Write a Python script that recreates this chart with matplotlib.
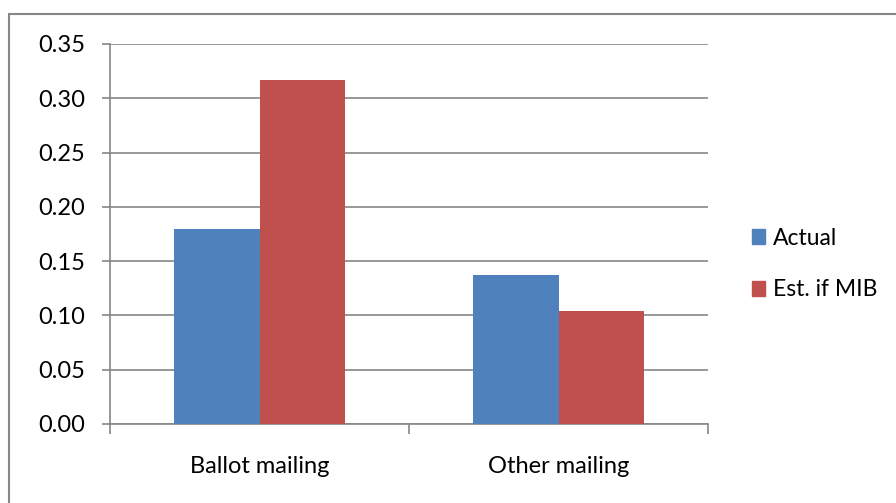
import numpy as np
import matplotlib.pyplot as plt
from matplotlib.patches import Rectangle, Patch

categories = ['Ballot mailing', 'Other mailing']
series_names = ['Actual', 'Est. if MIB']
actual = [0.180, 0.137]
est_mib = [0.317, 0.104]
yticks = [0.00, 0.05, 0.10, 0.15, 0.20, 0.25, 0.30, 0.35]

blue = '#4F81BD'
red = '#C0504D'
gray = '#868686'

plt.rcParams['font.family'] = ['Lato', 'DejaVu Sans']
plt.rcParams['font.size'] = 17

fig = plt.figure(figsize=(8.96, 5.03), dpi=100)
ax = fig.add_axes([110 / 896, 79 / 503, 598 / 896, 380 / 503])

# outer chart frame, cut off at right and bottom
fig.patches.append(Rectangle((9 / 896, -0.1), 2.0, (503 - 14) / 503 + 0.1,
                             transform=fig.transFigure, fill=False,
                             edgecolor=gray, linewidth=1.5))

x = np.arange(len(categories))
w = 0.285
ax.bar(x - w / 2, actual, w, color=blue, label=series_names[0], zorder=3)
ax.bar(x + w / 2, est_mib, w, color=red, label=series_names[1], zorder=3)

ax.set_xlim(-0.5, len(categories) - 0.5)
ax.set_ylim(0, 0.35)
ax.set_yticks(yticks)
ax.set_yticklabels([f'{v:.2f}' for v in yticks])
ax.yaxis.grid(True, color=gray, linewidth=1.2, zorder=0)

# category labels sit between boundary ticks
ax.set_xticks(np.arange(len(categories) + 1) - 0.5)
ax.set_xticklabels([])
ax.set_xticks(x, minor=True)
ax.set_xticklabels(categories, minor=True)
ax.tick_params(axis='x', which='major', length=7, color=gray, width=1.2, direction='out')
ax.tick_params(axis='x', which='minor', length=0, pad=23)
ax.tick_params(axis='y', length=6, color=gray, width=1.2, pad=12)

for side in ['top', 'right']:
    ax.spines[side].set_visible(False)
for side in ['left', 'bottom']:
    ax.spines[side].set_color(gray)
    ax.spines[side].set_linewidth(1.2)

handles = [Patch(color=blue), Patch(color=red)]
fig.legend(handles, series_names, loc='center left',
           bbox_to_anchor=(731 / 896, 239 / 503), frameon=False,
           handlelength=0.6, handleheight=0.6, handletextpad=0.35,
           labelspacing=1.35, fontsize=16.5)

fig.savefig('out.png', dpi=100)
